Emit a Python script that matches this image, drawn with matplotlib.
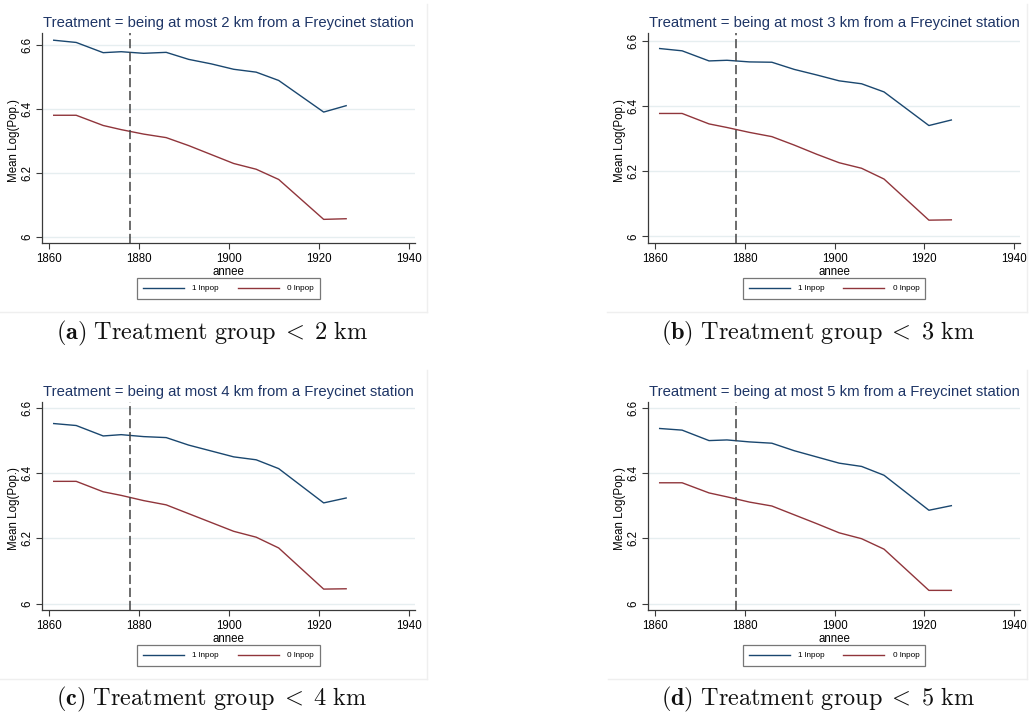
import matplotlib
matplotlib.use("Agg")
import matplotlib.pyplot as plt
from matplotlib.lines import Line2D

plt.rcParams['font.family'] = ['Liberation Sans', 'DejaVu Sans']
plt.rcParams['mathtext.fontset'] = 'cm'

years = [1861, 1866, 1872, 1876, 1881, 1886, 1891, 1896, 1901, 1906, 1911, 1921, 1926]

treated_2km = [6.615, 6.608, 6.576, 6.579, 6.574, 6.577, 6.555, 6.541, 6.524, 6.515, 6.489, 6.390, 6.410]
control_2km = [6.380, 6.380, 6.348, 6.335, 6.321, 6.310, 6.285, 6.257, 6.229, 6.211, 6.179, 6.054, 6.056]

treated_3km = [6.576, 6.569, 6.538, 6.540, 6.535, 6.534, 6.512, 6.495, 6.477, 6.468, 6.443, 6.340, 6.357]
control_3km = [6.377, 6.377, 6.345, 6.334, 6.319, 6.306, 6.280, 6.252, 6.226, 6.209, 6.176, 6.050, 6.051]

treated_4km = [6.552, 6.546, 6.514, 6.518, 6.512, 6.509, 6.486, 6.468, 6.450, 6.441, 6.414, 6.309, 6.324]
control_4km = [6.375, 6.375, 6.343, 6.332, 6.316, 6.303, 6.276, 6.249, 6.222, 6.204, 6.171, 6.045, 6.046]

treated_5km = [6.536, 6.531, 6.499, 6.501, 6.495, 6.491, 6.468, 6.449, 6.430, 6.420, 6.393, 6.286, 6.300]
control_5km = [6.370, 6.370, 6.339, 6.327, 6.311, 6.299, 6.272, 6.245, 6.217, 6.199, 6.167, 6.041, 6.041]

distances = [2, 3, 4, 5]
panel_letters = ['a', 'b', 'c', 'd']
series_labels = ['1 lnpop', '0 lnpop']
event_year = 1878
xticks = [1860, 1880, 1900, 1920, 1940]
yticks = [6.0, 6.2, 6.4, 6.6]
ytick_labels = ['6', '6.2', '6.4', '6.6']

treated = [treated_2km, treated_3km, treated_4km, treated_5km]
control = [control_2km, control_3km, control_4km, control_5km]

W, H = 1033, 718
fig = plt.figure(figsize=(W / 100, H / 100), dpi=100)

# axes boxes in pixel coords (left, right, top, bottom)
boxes = [(42, 415, 33, 243), (648, 1020, 33, 243),
         (42, 415, 402, 610), (648, 1020, 402, 610)]
ylims = [(5.980, 6.6376), (5.980, 6.6236), (5.981, 6.618), (5.981, 6.617)]
caption_y = [333, 333, 699, 699]
frames = [(0, 427, 4, 312), (607, 1027, 4, 312), (0, 427, 370, 679), (608, 1027, 370, 679)]

navy = '#1A476F'
maroon = '#90353B'
axis_col = '#3a3a3a'

for i in range(4):
    l, r, t, b = boxes[i]
    ax = fig.add_axes([l / W, 1 - b / H, (r - l) / W, (b - t) / H])
    ax.set_xlim(1858.4, 1941.3)
    ax.set_ylim(*ylims[i])
    for yv in yticks:
        ax.axhline(yv, color='#E6EEF0', lw=1.0, zorder=0)
    h1, = ax.plot(years, treated[i], color=navy, lw=1.0, label=series_labels[0])
    h2, = ax.plot(years, control[i], color=maroon, lw=1.0, label=series_labels[1])
    ax.axvline(event_year, color='#444444', lw=1.1, ls=(0, (6, 2.5)))
    for s in ['top', 'right']:
        ax.spines[s].set_visible(False)
    for s in ['left', 'bottom']:
        ax.spines[s].set_color(axis_col)
        ax.spines[s].set_linewidth(0.9)
    ax.set_xticks(xticks)
    ax.set_xticklabels([str(x) for x in xticks])
    ax.set_yticks(yticks)
    ax.set_yticklabels(ytick_labels, rotation=90, va='center')
    ax.tick_params(axis='both', direction='out', length=4, width=0.8, color=axis_col,
                   labelsize=8.3, pad=2)
    ax.tick_params(axis='x', pad=3)
    ax.set_xlabel('annee', fontsize=8.3)
    ax.xaxis.set_label_coords(0.5, -0.11)
    ax.set_ylabel('Mean Log(Pop.)', fontsize=8.3)
    ax.yaxis.set_label_coords(-0.058, 0.49)
    ax.set_title(f'Treatment = being at most {distances[i]} km from a Freycinet station',
                 color='#1E3566', fontsize=10.7, pad=4)
    cx = (l + r) / 2
    leg = fig.legend(handles=[h1, h2], loc='center', bbox_to_anchor=(cx / W, 1 - (b + 45.5) / H),
                     ncol=2, fontsize=5.9, frameon=True, fancybox=False, handlelength=5.0,
                     handletextpad=1.0, columnspacing=2.3, borderpad=0.75)
    leg.get_frame().set_edgecolor('#555555')
    leg.get_frame().set_linewidth(0.9)
    # caption
    fig.text(cx / W - 0.016, 1 - caption_y[i] / H,
             r'$\mathbf{(' + panel_letters[i] + r')}\ \mathrm{Treatment\ group}\;<\;' + str(distances[i]) + r'\ \mathrm{km}$',
             ha='center', va='center', fontsize=17.5, color='#111111')
    # faint frame of the embedded graph
    fl, fr, ft, fb = frames[i]
    fig.add_artist(Line2D([fl / W, fr / W], [1 - fb / H, 1 - fb / H], color='#EFEFEF', lw=1))
    fig.add_artist(Line2D([fr / W, fr / W], [1 - ft / H, 1 - fb / H], color='#EFEFEF', lw=1))

fig.savefig('out.png', dpi=100)
